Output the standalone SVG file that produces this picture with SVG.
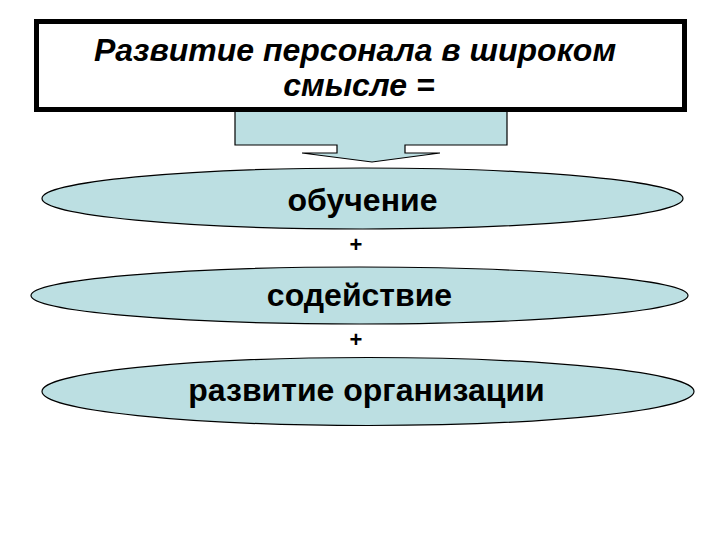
<svg xmlns="http://www.w3.org/2000/svg" width="720" height="540" viewBox="0 0 720 540">
<style>
.fill{fill:#BCDFE2;stroke:#000;stroke-width:1.2}
.t{font-family:"Liberation Sans",Arial,sans-serif;font-weight:bold;fill:#000;text-anchor:middle}
.title{font-style:italic;font-size:32px}
.lbl{font-size:32px}
.plus{font-size:22px}
</style>
<rect width="720" height="540" fill="#fff"/>
<g id="connectors">
<polygon id="arrow" class="fill" points="235,108 507,108 507,145 405,145 405,153 440,153 372,162 302,153 337,153 337,145 235,145"/>
<text class="t plus" x="356" y="252">+</text>
<text class="t plus" x="356" y="347">+</text>
</g>
<g id="title">
<rect x="36.5" y="21.5" width="648" height="88" fill="#fff" stroke="#000" stroke-width="5"/>
<text class="t title" x="355" y="61">Развитие персонала в широком</text>
<text class="t title" x="359" y="96">смысле =</text>
</g>
<g id="node-obuchenie">
<ellipse class="fill" cx="362.5" cy="198.5" rx="320.5" ry="30.5"/>
<text class="t lbl" x="362.5" y="211">обучение</text>
</g>
<g id="node-sodeistvie">
<ellipse class="fill" cx="359.5" cy="295.5" rx="328.5" ry="28.5"/>
<text class="t lbl" x="359.5" y="306">содействие</text>
</g>
<g id="node-razvitie">
<ellipse class="fill" cx="368" cy="391.5" rx="326" ry="34"/>
<text class="t lbl" x="366.5" y="401">развитие организации</text>
</g>
</svg>
